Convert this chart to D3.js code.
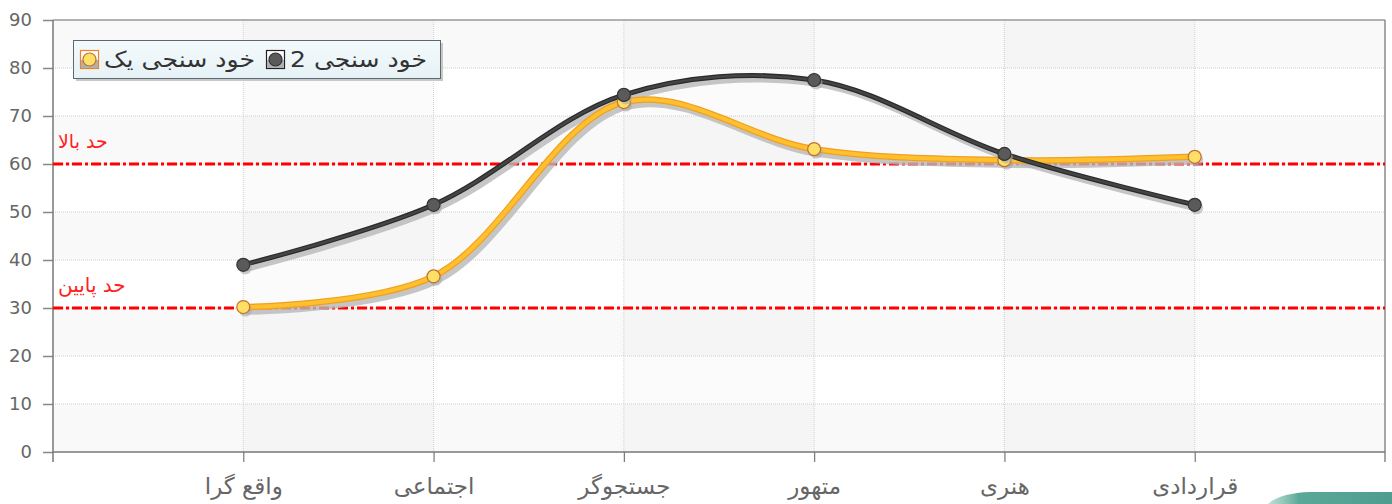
<!DOCTYPE html>
<html>
<head>
<meta charset="utf-8">
<script src="https://cdn.jsdelivr.net/npm/d3@7"></script>
<style>
  body { margin: 0; background: #fff; }
  svg { display: block; font-family: "DejaVu Sans", sans-serif; }
</style>
</head>
<body>
<svg id="chart" width="1392" height="504"></svg>
<script>
// data
var categories = ["واقع گرا", "اجتماعی", "جستجوگر", "متهور", "هنری", "قراردادی"];
var seriesNames = ["خود سنجی یک", "خود سنجی 2"];
var selfOne = [30.2, 36.6, 72.9, 63.1, 60.8, 61.5];
var selfTwo = [39, 51.5, 74.4, 77.5, 62.1, 51.5];
var yTicks = [0, 10, 20, 30, 40, 50, 60, 70, 80, 90];
var limits = [{value: 60, label: "حد بالا", size: 19}, {value: 30, label: "حد پایین", size: 20}];

var svg = d3.select("#chart");
var plotLeft = 53, plotRight = 1385, plotTop = 20, plotBottom = 452;

var x = d3.scalePoint().domain(categories).range([plotLeft, plotRight]).padding(1);
var y = d3.scaleLinear().domain([0, 90]).range([plotBottom, plotTop]);

var defs = svg.append("defs");
var lg = defs.append("linearGradient").attr("id", "legendBg").attr("x1", 0).attr("y1", 0).attr("x2", 0).attr("y2", 1);
lg.append("stop").attr("offset", "0%").attr("stop-color", "#f4fafc");
lg.append("stop").attr("offset", "100%").attr("stop-color", "#e6f2f6");
var cg = defs.append("linearGradient").attr("id", "cornerBg").attr("x1", 0).attr("y1", 0).attr("x2", 1).attr("y2", 0);
cg.append("stop").attr("offset", "0%").attr("stop-color", "#7cc0ac").attr("stop-opacity", 0.5);
cg.append("stop").attr("offset", "25%").attr("stop-color", "#5aa898");
cg.append("stop").attr("offset", "100%").attr("stop-color", "#4f9d8e");

// background strips
svg.selectAll("bandRow")
    .data(yTicks.slice(0, -1))
    .enter()
    .append("rect")
    .attr("x", plotLeft)
    .attr("y", function(d){ return y(d + 10); })
    .attr("width", plotRight - plotLeft)
    .attr("height", function(d){ return y(d) - y(d + 10); })
    .style("fill", function(d){ return (d / 10) % 2 == 0 ? "#f9f9f9" : "#ffffff"; });

var colEdges = [plotLeft].concat(categories.map(function(c){ return x(c); }));
svg.selectAll("bandCol")
    .data(colEdges)
    .enter()
    .append("rect")
    .attr("x", function(d){ return d; })
    .attr("y", plotTop)
    .attr("width", function(d, i){ return (i < colEdges.length - 1 ? colEdges[i + 1] : plotRight) - d; })
    .attr("height", plotBottom - plotTop)
    .style("fill", function(d, i){ return i % 2 == 1 ? "rgba(0,0,0,0.015)" : "none"; });

// grid
svg.selectAll("hGrid")
    .data(yTicks.slice(1, -1))
    .enter()
    .append("line")
    .attr("x1", plotLeft).attr("x2", plotRight)
    .attr("y1", function(d){ return y(d); })
    .attr("y2", function(d){ return y(d); })
    .style("stroke", "#d0d0d0")
    .style("stroke-dasharray", "1,1");

svg.selectAll("vGrid")
    .data(categories)
    .enter()
    .append("line")
    .attr("x1", function(d){ return x(d); })
    .attr("x2", function(d){ return x(d); })
    .attr("y1", plotTop).attr("y2", plotBottom)
    .style("stroke", "#d0d0d0")
    .style("stroke-dasharray", "1,1");

// frame
svg.append("line").attr("x1", plotLeft).attr("x2", plotRight).attr("y1", plotTop).attr("y2", plotTop).style("stroke", "#999").style("stroke-width", 1.5);
svg.append("line").attr("x1", plotRight).attr("x2", plotRight).attr("y1", plotTop).attr("y2", plotBottom + 10).style("stroke", "#888").style("stroke-width", 1.5);

// axes
var yAxis = d3.axisLeft(y).tickValues(yTicks).tickSize(10).tickPadding(11);
var gy = svg.append("g").attr("transform", "translate(" + plotLeft + ",0)").call(yAxis);
gy.select(".domain").remove();
gy.append("line").attr("x1", 0).attr("x2", 0).attr("y1", plotTop).attr("y2", plotBottom + 10).style("stroke", "#777").style("stroke-width", 1.5);
gy.selectAll(".tick line").style("stroke", "#888").style("stroke-width", 1.5);
gy.selectAll(".tick text").style("font-size", "18px").style("fill", "#666").style("font-family", "DejaVu Sans");

var xAxis = d3.axisBottom(x).tickSize(10).tickPadding(16);
var gx = svg.append("g").attr("transform", "translate(0," + plotBottom + ")").call(xAxis);
gx.select(".domain").remove();
gx.append("line").attr("x1", plotLeft).attr("x2", plotRight).attr("y1", 0).attr("y2", 0).style("stroke", "#777").style("stroke-width", 1.5);
gx.selectAll(".tick line").style("stroke", "#777").style("stroke-width", 1.2);
gx.selectAll(".tick text").style("font-size", "23px").style("fill", "#666").style("font-family", "DejaVu Sans");

// limit lines
svg.selectAll("limitLine")
    .data(limits)
    .enter()
    .append("line")
    .attr("x1", plotLeft).attr("x2", plotRight)
    .attr("y1", function(d){ return y(d.value); })
    .attr("y2", function(d){ return y(d.value); })
    .style("stroke", "#ff0000")
    .style("stroke-width", 3)
    .style("stroke-dasharray", "10,3,3,3");

svg.selectAll("limitText")
    .data(limits)
    .enter()
    .append("text")
    .attr("x", 58)
    .attr("y", function(d){ return y(d.value) - 16; })
    .attr("text-anchor", "start")
    .style("font-size", function(d){ return d.size + "px"; })
    .style("fill", "#ff2020")
    .text(function(d){ return d.label; });

// series
var line = d3.line()
    .x(function(d, i){ return x(categories[i]); })
    .y(function(d){ return y(d); })
    .curve(d3.curveCatmullRom.alpha(0.5));

var series = [
    {name: seriesNames[0], values: selfOne, edge: "#f0a020", main: "#ffc030", width: 6.5, dot: "#ffe066", dotEdge: "#c07030", box: "#f08020"},
    {name: seriesNames[1], values: selfTwo, edge: "#2a2a2a", main: "#454545", width: 5, dot: "#5a5a5a", dotEdge: "#333333", box: "#222222"}
];

series.forEach(function(s){
    svg.append("path")
        .attr("d", line(s.values))
        .attr("transform", "translate(3,4)")
        .style("fill", "none")
        .style("stroke", "#b8b8b8")
        .style("stroke-opacity", 0.8)
        .style("stroke-width", s.width + 1);
});

series.forEach(function(s){
    svg.append("path")
        .attr("d", line(s.values))
        .style("fill", "none")
        .style("stroke", s.edge)
        .style("stroke-width", s.width);
    svg.append("path")
        .attr("d", line(s.values))
        .style("fill", "none")
        .style("stroke", s.main)
        .style("stroke-width", s.width - 2.5);
});

series.forEach(function(s){
    svg.selectAll("dotShadow")
        .data(s.values)
        .enter()
        .append("circle")
        .attr("cx", function(d, i){ return x(categories[i]) + 2; })
        .attr("cy", function(d){ return y(d) + 3; })
        .attr("r", 6.5)
        .style("fill", "#aaa")
        .style("opacity", 0.6);
    svg.selectAll("dot")
        .data(s.values)
        .enter()
        .append("circle")
        .attr("cx", function(d, i){ return x(categories[i]); })
        .attr("cy", function(d){ return y(d); })
        .attr("r", 6.5)
        .style("fill", s.dot)
        .style("stroke", s.dotEdge)
        .style("stroke-width", 1.2);
});

// legend
var legend = svg.append("g").attr("transform", "translate(73,40)");
legend.append("rect").attr("x", 3).attr("y", 3).attr("width", 367).attr("height", 38).style("fill", "#c8c8c8");
legend.append("rect").attr("x", 0.5).attr("y", 0.5).attr("width", 367).attr("height", 38)
    .style("fill", "url(#legendBg)").style("stroke", "#5a6a70").style("stroke-width", 1);

var legendItems = [
    {s: series[0], icon: 7, textLeft: 31, textWidth: 151},
    {s: series[1], icon: 193, textLeft: 217, textWidth: 137}
];
legendItems.forEach(function(it){
    var g = legend.append("g").attr("transform", "translate(" + it.icon + ",10)");
    g.append("rect").attr("x", 0.5).attr("y", 0.5).attr("width", 18).attr("height", 18)
        .style("fill", "#fff").style("stroke", it.s.box).style("stroke-width", 1.2);
    g.append("rect").attr("x", 1).attr("y", 10).attr("width", 17).attr("height", 8).style("fill", "#b0b0b0");
    g.append("circle").attr("cx", 9.5).attr("cy", 9.5).attr("r", 6.5)
        .style("fill", it.s.dot).style("stroke", it.s.dotEdge).style("stroke-width", 1.2);
    legend.append("text")
        .attr("x", it.textLeft)
        .attr("y", 27)
        .attr("text-anchor", "start")
        .attr("textLength", it.textWidth)
        .attr("lengthAdjust", "spacingAndGlyphs")
        .style("font-size", "22px")
        .style("fill", "#333")
        .text(it.s.name);
});

// corner decoration, bottom right
svg.append("path")
    .attr("d", "M1268,504 Q1280,493 1310,492 L1392,492 L1392,504 Z")
    .style("fill", "url(#cornerBg)");
</script>
</body>
</html>
